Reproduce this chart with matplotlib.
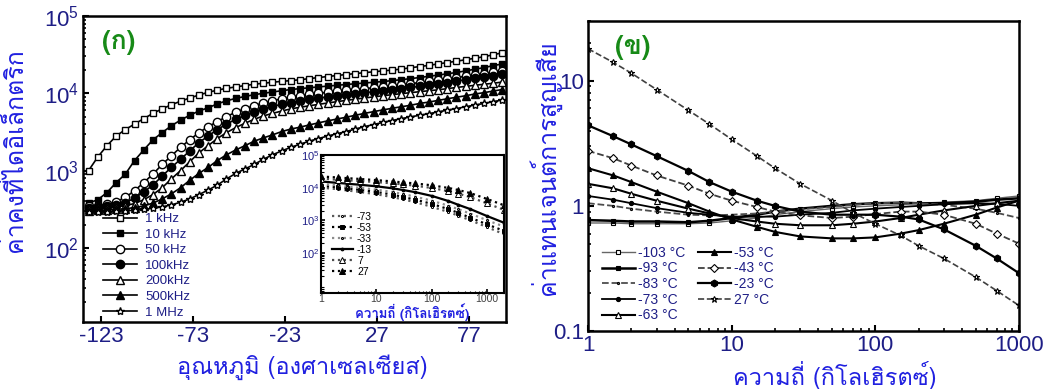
import matplotlib
matplotlib.use('Agg')
import matplotlib.pyplot as plt
from matplotlib import font_manager
from matplotlib.ticker import FixedLocator, FuncFormatter, LogLocator, NullFormatter, FixedFormatter
import numpy as np

# ---------------- fonts ----------------
def find_thai_family():
    try:
        from fontTools.ttLib import TTFont
    except Exception:
        return None
    found = []
    for fe in font_manager.fontManager.ttflist:
        try:
            f = TTFont(fe.fname, fontNumber=0, lazy=True)
            cmap = f.getBestCmap() or {}
            if 0x0E01 in cmap and 0x0E2D in cmap and 0x0E48 in cmap:
                found.append(fe.name)
        except Exception:
            continue
    return found[0] if found else None

THAI = find_thai_family()
NUMFONT = ['Liberation Sans', 'DejaVu Sans']
THAIFONT = ([THAI] if THAI else []) + ['DejaVu Sans']
plt.rcParams['font.family'] = NUMFONT
plt.rcParams['mathtext.default'] = 'regular'
plt.rcParams['axes.unicode_minus'] = False

NAVY = '#1e1e86'
BLUE = '#2020e0'
GREEN = '#178a17'

# ---------------- data: panel (ก) ----------------
temperature = [-130, -125, -120, -115, -110, -105, -100, -95, -90, -85, -80, -75, -70, -65,
               -60, -55, -50, -45, -40, -35, -30, -25, -20, -15, -10, -5, 0, 5, 10, 15,
               20, 25, 30, 35, 40, 45, 50, 55, 60, 65, 70, 75, 80, 85, 90, 95]
eps_1kHz = [1000, 1500, 2100, 2800, 3400, 4000, 4700, 5500, 6300, 7100, 7900, 8700, 9500, 10300,
            11000, 11600, 12100, 12600, 13100, 13500, 13900, 14300, 14600, 15000, 15500, 16000,
            16500, 17000, 17500, 18000, 18500, 19000, 19500, 20000, 20600, 21400, 22200, 23000,
            24000, 25000, 26000, 27200, 28400, 29800, 31500, 33500]
eps_10kHz = [380, 420, 520, 700, 900, 1350, 1850, 2500, 3100, 3800, 4500, 5200, 5900, 6500,
             7300, 8000, 8600, 9100, 9600, 10000, 10400, 10800, 11200, 11500, 11800, 12100,
             12400, 12700, 13000, 13300, 13600, 13900, 14200, 14600, 15000, 15500, 16000, 16600,
             17200, 17900, 18600, 19500, 20500, 21500, 22800, 24000]
eps_50kHz = [345, 350, 365, 395, 450, 550, 700, 900, 1200, 1550, 2000, 2500, 3100, 3700,
             4300, 5000, 5700, 6300, 6900, 7500, 8000, 8500, 8900, 9300, 9700, 10000,
             10300, 10600, 10900, 11200, 11500, 11800, 12100, 12500, 12900, 13300, 13800, 14300,
             14800, 15400, 16000, 16600, 17300, 18000, 18800, 19600]
eps_100kHz = [330, 335, 345, 360, 385, 440, 530, 650, 850, 1100, 1400, 1800, 2300, 2800,
              3400, 4000, 4600, 5200, 5800, 6300, 6800, 7200, 7600, 8000, 8400, 8700,
              9000, 9300, 9600, 9900, 10200, 10500, 10800, 11100, 11500, 11900, 12300, 12800,
              13300, 13800, 14400, 15000, 15600, 16200, 16900, 17600]
eps_200kHz = [315, 320, 328, 338, 352, 375, 420, 490, 600, 780, 1000, 1300, 1700, 2100,
              2600, 3100, 3600, 4100, 4600, 5100, 5500, 5900, 6300, 6600, 6900, 7200,
              7500, 7800, 8100, 8400, 8700, 9000, 9300, 9600, 9900, 10200, 10500, 10800,
              11100, 11500, 11900, 12300, 12700, 13100, 13500, 14000]
eps_500kHz = [300, 305, 310, 315, 322, 332, 350, 380, 430, 500, 600, 750, 920, 1100,
              1350, 1600, 1850, 2100, 2400, 2650, 2900, 3200, 3450, 3650, 3900, 4150,
              4400, 4650, 4900, 5200, 5500, 5800, 6100, 6400, 6700, 7000, 7400, 7700,
              8100, 8500, 8900, 9300, 9800, 10200, 10700, 11200]
eps_1MHz = [290, 292, 295, 298, 302, 308, 315, 325, 340, 360, 390, 430, 490, 560,
            650, 780, 920, 1050, 1200, 1400, 1600, 1800, 2000, 2200, 2400, 2600,
            2800, 3000, 3200, 3450, 3700, 3950, 4200, 4450, 4700, 4950, 5200, 5450,
            5750, 6050, 6350, 6700, 7050, 7400, 7800, 8200]
freq_labels = ['1 kHz', '10 kHz', '50 kHz', '100kHz', '200kHz', '500kHz', '1 MHz']
temp_ticks = [-123, -73, -23, 27, 77]

# inset data
inset_freq = [1, 2, 3, 5, 10, 20, 30, 50, 100, 200, 300, 500, 1000, 2000]
inset_T27 = [22000, 20500, 19500, 18500, 17000, 15500, 14500, 13500, 11800, 9800, 8500, 6800, 4500, 2900]
inset_T7 = [19000, 17500, 16800, 16000, 14800, 13500, 12600, 11500, 9800, 7800, 6600, 5100, 3300, 2100]
inset_Tm13 = [15500, 14000, 13200, 12300, 11000, 9500, 8500, 7300, 5600, 3900, 3000, 2200, 1350, 850]
inset_Tm33 = [13000, 11700, 10800, 9900, 8700, 7300, 6400, 5300, 4000, 2800, 2200, 1600, 1000, 650]
inset_Tm53 = [11500, 10300, 9500, 8600, 7400, 6100, 5200, 4300, 3200, 2200, 1700, 1200, 750, 480]
inset_Tm73 = [10000, 9000, 8200, 7400, 6300, 5100, 4400, 3600, 2600, 1800, 1400, 1000, 620, 380]
inset_labels = ['-73', '-53', '-33', '-13', '7', '27']

# ---------------- data: panel (ข) ----------------
loss_freq = [1, 1.5, 2, 3, 5, 7, 10, 15, 20, 30, 50, 70, 100, 150, 200, 300, 500, 700, 1000]
tan_m103 = [0.73, 0.73, 0.72, 0.72, 0.72, 0.73, 0.76, 0.80, 0.85, 0.90, 0.95, 0.98, 1.00, 1.02, 1.05, 1.07, 1.10, 1.15, 1.20]
tan_m93 = [0.77, 0.76, 0.75, 0.75, 0.74, 0.76, 0.80, 0.85, 0.90, 0.95, 1.00, 1.03, 1.05, 1.06, 1.05, 1.05, 1.08, 1.12, 1.15]
tan_m83 = [1.05, 1.00, 0.95, 0.90, 0.85, 0.84, 0.85, 0.87, 0.90, 0.94, 0.98, 1.02, 1.05, 1.06, 1.05, 1.02, 0.95, 0.88, 0.80]
tan_m73 = [1.20, 1.12, 1.05, 0.96, 0.88, 0.85, 0.82, 0.82, 0.82, 0.85, 0.88, 0.92, 0.95, 0.98, 1.00, 1.03, 1.05, 1.04, 1.00]
tan_m63 = [1.50, 1.38, 1.25, 1.10, 0.95, 0.87, 0.80, 0.75, 0.72, 0.70, 0.70, 0.72, 0.75, 0.80, 0.85, 0.92, 1.00, 1.05, 1.10]
tan_m53 = [2.00, 1.75, 1.55, 1.30, 1.05, 0.90, 0.78, 0.68, 0.62, 0.57, 0.55, 0.55, 0.56, 0.60, 0.64, 0.72, 0.85, 0.97, 1.10]
tan_m43 = [2.75, 2.40, 2.10, 1.75, 1.45, 1.25, 1.10, 0.98, 0.90, 0.84, 0.80, 0.82, 0.86, 0.90, 0.90, 0.85, 0.72, 0.60, 0.50]
tan_m23 = [4.40, 3.60, 3.10, 2.50, 1.90, 1.55, 1.30, 1.10, 1.00, 0.90, 0.85, 0.85, 0.85, 0.82, 0.78, 0.65, 0.48, 0.38, 0.29]
tan_27 = [18.0, 14.0, 11.5, 8.5, 5.8, 4.5, 3.4, 2.5, 2.0, 1.5, 1.10, 0.88, 0.72, 0.58, 0.48, 0.38, 0.27, 0.21, 0.16]
temp_labels = ['-103 °C', '-93 °C', '-83 °C', '-73 °C', '-63 °C', '-53 °C', '-43 °C', '-23 °C', '27 °C']

# ---------------- figure ----------------
fig = plt.figure(figsize=(10.51, 3.89), dpi=100)
fig.patch.set_facecolor('white')

def style_spines(ax, lw=1.8):
    for s in ax.spines.values():
        s.set_linewidth(lw)
        s.set_color('black')

# ---- panel (ก)
ax = fig.add_axes([0.079, 0.1722, 0.4025, 0.7866])
left_series = [eps_1kHz, eps_10kHz, eps_50kHz, eps_100kHz, eps_200kHz, eps_500kHz, eps_1MHz]
left_markers = ['s', 's', 'o', 'o', '^', '^', '*']
left_fill = ['white', 'black', 'white', 'black', 'white', 'black', 'white']
left_ms = [5, 5, 6, 6, 6, 6, 6]
handles = []
for ys, mk, fc, ms, lab in zip(left_series, left_markers, left_fill, left_ms, freq_labels):
    h, = ax.plot(temperature, ys, color='black', lw=1.2, marker=mk, ms=ms, mfc=fc,
                 mec='black', mew=1.0, label=lab)
    handles.append(h)
ax.set_yscale('log')
ax.set_xlim(-133, 97)
ax.set_ylim(11, 1e5)
ax.xaxis.set_major_locator(FixedLocator(temp_ticks))
ax.yaxis.set_major_locator(LogLocator(base=10, numticks=10))
ax.yaxis.set_minor_locator(LogLocator(base=10, subs=np.arange(2, 10), numticks=20))
ax.yaxis.set_minor_formatter(NullFormatter())
ax.yaxis.set_major_formatter(FuncFormatter(lambda v, p: r'$10^{%d}$' % round(np.log10(v))))
ax.tick_params(axis='both', which='major', direction='in', length=4, width=1.5,
               labelsize=16, labelcolor=NAVY, pad=3)
ax.tick_params(axis='y', which='minor', direction='in', length=2.5, width=1.2)
style_spines(ax)
leg = ax.legend(handles=handles, loc='upper left', bbox_to_anchor=(0.047, 0.356),
                frameon=False, fontsize=9.5, labelcolor=NAVY, handlelength=2.6,
                handletextpad=0.6, labelspacing=0.25, borderpad=0, borderaxespad=0)
ax.text(0.085, 0.915, '(ก)', transform=ax.transAxes, color=GREEN, fontsize=19,
        fontweight='bold', family=THAIFONT, ha='center', va='center')

# inset
axi = fig.add_axes([0.3054, 0.2468, 0.174, 0.3548])
axi.set_facecolor('white')
inset_series = [inset_Tm73, inset_Tm53, inset_Tm33, inset_Tm13, inset_T7, inset_T27]
inset_mk = ['.', 's', '.', 'o', '^', '^']
inset_fc = ['white', 'black', '0.6', 'black', 'white', 'black']
inset_ls = [':', ':', ':', '-', ':', ':']
inset_col = ['0.35', 'black', '0.55', 'black', '0.3', 'black']
inset_ms = [3, 2.5, 3, 2, 4, 4]
ih = []
for ys, mk, fc, ls, c, ms, lab in zip(inset_series, inset_mk, inset_fc, inset_ls, inset_col, inset_ms, inset_labels):
    h, = axi.plot(inset_freq, ys, color=c, ls=ls, lw=1.6, marker=mk, ms=ms, mfc=fc,
                  mec='black', mew=0.7, label=lab)
    ih.append(h)
axi.set_xscale('log')
axi.set_yscale('log')
axi.set_xlim(1, 2000)
axi.set_ylim(6, 1e5)
axi.xaxis.set_major_locator(FixedLocator([1, 10, 100, 1000]))
axi.xaxis.set_major_formatter(FixedFormatter(['1', '10', '100', '1000']))
axi.xaxis.set_minor_locator(LogLocator(base=10, subs=np.arange(2, 10), numticks=20))
axi.xaxis.set_minor_formatter(NullFormatter())
axi.yaxis.set_major_locator(FixedLocator([1e2, 1e3, 1e4, 1e5]))
axi.yaxis.set_major_formatter(FuncFormatter(lambda v, p: r'$10^{%d}$' % round(np.log10(v))))
axi.yaxis.set_minor_locator(LogLocator(base=10, subs=np.arange(2, 10), numticks=20))
axi.yaxis.set_minor_formatter(NullFormatter())
axi.tick_params(axis='both', which='major', direction='in', length=3, width=1.2, pad=1)
axi.tick_params(axis='both', which='minor', direction='in', length=1.8, width=0.8)
axi.tick_params(axis='x', labelsize=7.5, labelcolor='0.25')
axi.tick_params(axis='y', labelsize=8, labelcolor=NAVY)
style_spines(axi, 1.5)
axi.set_xlabel('ความถี่ (กิโลเฮิรตซ์)', color=BLUE, fontsize=9.5, fontweight='bold',
               family=THAIFONT, labelpad=-1)
axi.legend(handles=ih, loc='upper left', bbox_to_anchor=(0.06, 0.59), frameon=False,
           fontsize=7.5, labelcolor='black', handlelength=2.0, handletextpad=0.4,
           labelspacing=0.1, borderpad=0, borderaxespad=0)

fig.text(302 / 1051, 1 - 367 / 389, 'อุณหภูมิ (องศาเซลเซียส)', color=BLUE, fontsize=17,
         family=THAIFONT, ha='center', va='center')
fig.text(15 / 1051, 1 - 150 / 389, 'ค่าคงที่ไดอิเล็กตริก', color=BLUE, fontsize=18,
         family=THAIFONT, ha='center', va='center', rotation=90)

# ---- panel (ข)
ax2 = fig.add_axes([0.5595, 0.149, 0.410, 0.797])
right_series = [tan_m103, tan_m93, tan_m83, tan_m73, tan_m63, tan_m53, tan_m43, tan_m23, tan_27]
r_mk = ['s', 's', '.', 'o', '^', '^', 'D', 'h', '*']
r_fc = ['white', 'black', '0.5', 'black', 'white', 'black', 'white', 'black', 'white']
r_ls = ['-', '-', '--', '-', '-', '-', '--', '-', '--']
r_col = ['0.4', 'black', '0.3', 'black', 'black', 'black', '0.25', 'black', '0.25']
r_lw = [1.0, 1.8, 1.3, 1.3, 1.5, 1.5, 1.3, 1.6, 1.2]
r_ms = [3, 3, 3, 3, 5, 5, 4, 5, 5]
rh = []
for ys, mk, fc, ls, c, lw, ms, lab in zip(right_series, r_mk, r_fc, r_ls, r_col, r_lw, r_ms, temp_labels):
    h, = ax2.plot(loss_freq, ys, color=c, ls=ls, lw=lw, marker=mk, ms=ms, mfc=fc,
                  mec='black', mew=0.8, label=lab)
    rh.append(h)
ax2.set_xscale('log')
ax2.set_yscale('log')
ax2.set_xlim(1, 1000)
ax2.set_ylim(0.1, 30)
ax2.xaxis.set_major_locator(FixedLocator([1, 10, 100, 1000]))
ax2.xaxis.set_major_formatter(FixedFormatter(['1', '10', '100', '1000']))
ax2.xaxis.set_minor_locator(LogLocator(base=10, subs=np.arange(2, 10), numticks=20))
ax2.xaxis.set_minor_formatter(NullFormatter())
ax2.yaxis.set_major_locator(FixedLocator([0.1, 1, 10]))
ax2.yaxis.set_major_formatter(FixedFormatter(['0.1', '1', '10']))
ax2.yaxis.set_minor_locator(LogLocator(base=10, subs=np.arange(2, 10), numticks=20))
ax2.yaxis.set_minor_formatter(NullFormatter())
ax2.tick_params(axis='both', which='major', direction='in', length=4, width=1.5,
                labelsize=16, labelcolor=NAVY, pad=3)
ax2.tick_params(axis='both', which='minor', direction='in', length=2.5, width=1.2)
style_spines(ax2)
ax2.legend(handles=rh, loc='upper left', bbox_to_anchor=(0.032, 0.275), ncol=2,
           frameon=False, fontsize=10, labelcolor=NAVY, handlelength=2.4,
           handletextpad=0.2, labelspacing=0.12, columnspacing=0.9, borderpad=0,
           borderaxespad=0)
ax2.text(0.104, 0.916, '(ข)', transform=ax2.transAxes, color=GREEN, fontsize=19,
         fontweight='bold', family=THAIFONT, ha='center', va='center')

fig.text(835 / 1051, 1 - 375 / 389, 'ความถี่ (กิโลเฮิรตซ์)', color=BLUE, fontsize=17,
         family=THAIFONT, ha='center', va='center')
fig.text(545 / 1051, 1 - 168 / 389, 'ค่าแทนเจนต์การสูญเสีย', color=BLUE, fontsize=18,
         family=THAIFONT, ha='center', va='center', rotation=90)

fig.savefig('out.png', dpi=100, facecolor='white')
